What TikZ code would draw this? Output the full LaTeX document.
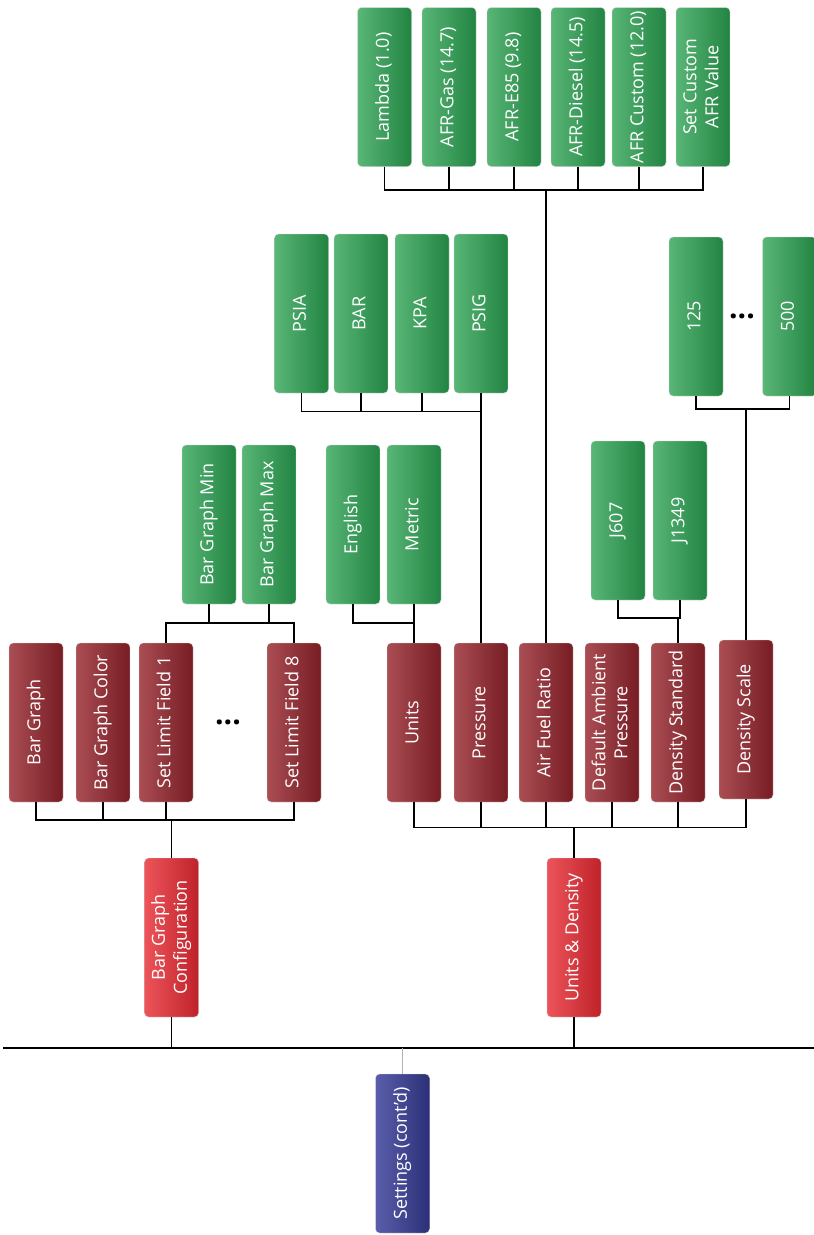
\documentclass[tikz,border=0pt]{standalone}
\usepackage{fontspec}
\setmainfont{Open Sans}

\definecolor{grnL}{RGB}{88,182,118}
\definecolor{grnR}{RGB}{34,132,66}
\definecolor{marL}{RGB}{170,78,84}
\definecolor{marR}{RGB}{120,28,36}
\definecolor{redL}{RGB}{236,84,90}
\definecolor{redR}{RGB}{192,34,42}
\definecolor{bluL}{RGB}{90,94,170}
\definecolor{bluR}{RGB}{44,48,120}

\newcommand{\vlabel}[1]{\rotatebox{90}{\begin{tabular}{@{}c@{}}#1\end{tabular}}}

\begin{document}
\begin{tikzpicture}[x=1pt, y=-1pt,
    box/.style={rectangle, rounded corners=4pt, minimum width=54pt, minimum height=159pt,
        inner sep=0pt, text=white, font=\fontsize{18}{22}\selectfont,
        draw=black!15, line width=.4pt},
    optbox/.style={box, left color=grnL, right color=grnR},
    setbox/.style={box, left color=marL, right color=marR},
    grpbox/.style={box, left color=redL, right color=redR},
    rootbox/.style={box, left color=bluL, right color=bluR},
    link/.style={draw=black, line width=1.6pt},
    stem/.style={draw=black!30, line width=1.6pt},
    more/.style={inner sep=0pt, font=\fontsize{30}{30}\bfseries}]
    \useasboundingbox (0,0) rectangle (814,1235);

    % root and trunk
    \node[rootbox] (settings) at (402.5,1153.5) {\vlabel{Settings (cont’d)}};
    \coordinate (trunkL) at (3,1048);
    \coordinate (trunkR) at (814,1048);
    \draw[link] (trunkL) -- (trunkR);
    \draw[stem] (settings.north) -- (settings.north |- trunkL);

    % groups
    \node[grpbox] (bgconf) at (171.5,937.5) {\vlabel{Bar Graph\\Configuration}};
    \node[grpbox] (unitsden) at (574,937.5) {\vlabel{Units \& Density}};
    \draw[link] (bgconf.south) -- (bgconf.south |- trunkL);
    \draw[link] (unitsden.south) -- (unitsden.south |- trunkL);

    % settings row
    \node[setbox] (bargraph) at (36,722.5) {\vlabel{Bar Graph}};
    \node[setbox] (bgcolor) at (103,722.5) {\vlabel{Bar Graph Color}};
    \node[setbox] (limit1) at (166,722.5) {\vlabel{Set Limit Field 1}};
    \node[more] (limdots) at (228,722) {...};
    \node[setbox] (limit8) at (294,722.5) {\vlabel{Set Limit Field 8}};

    \node[setbox] (units) at (414,722.5) {\vlabel{Units}};
    \node[setbox] (pressure) at (481,722.5) {\vlabel{Pressure}};
    \node[setbox] (afr) at (546,722.5) {\vlabel{Air Fuel Ratio}};
    \node[setbox] (ambient) at (612,722.5) {\vlabel{Default Ambient\\Pressure}};
    \node[setbox] (denstd) at (678,722.5) {\vlabel{Density Standard}};
    \node[setbox] (denscale) at (746,719.5) {\vlabel{Density Scale}};

    \coordinate (bgbus) at (0,820);
    \coordinate (udbus) at (0,827.5);
    \draw[link] (bargraph.south) |- (limit8.south |- bgbus) -- (limit8.south);
    \foreach \n in {bgcolor,limit1}
        \draw[link] (\n.south) -- (\n.south |- bgbus);
    \draw[link] (bgconf.north) -- (bgconf.north |- bgbus);

    \draw[link] (units.south) |- (denscale.south |- udbus) -- (denscale.south);
    \foreach \n in {pressure,afr,ambient,denstd}
        \draw[link] (\n.south) -- (\n.south |- udbus);
    \draw[link] (unitsden.north) -- (unitsden.north |- udbus);

    % limit values
    \node[optbox] (bgmin) at (209,524.5) {\vlabel{Bar Graph Min}};
    \node[optbox] (bgmax) at (269,524.5) {\vlabel{Bar Graph Max}};
    \coordinate (limbus) at (0,623);
    \draw[link] (limit1.north) |- (limit8.north |- limbus) -- (limit8.north);
    \foreach \n in {bgmin,bgmax}
        \draw[link] (\n.south) -- (\n.south |- limbus);

    % unit choices
    \node[optbox] (english) at (353,524.5) {\vlabel{English}};
    \node[optbox] (metric) at (414,524.5) {\vlabel{Metric}};
    \coordinate (unitbus) at (0,623);
    \draw[link] (english.south) |- (units.north |- unitbus) -- (units.north);
    \draw[link] (metric.south) -- (metric.south |- unitbus);

    % pressure choices
    \node[optbox] (psia) at (301.5,313.5) {\vlabel{PSIA}};
    \node[optbox] (bar) at (361,313.5) {\vlabel{BAR}};
    \node[optbox] (kpa) at (422,313.5) {\vlabel{KPA}};
    \node[optbox] (psig) at (481,313.5) {\vlabel{PSIG}};
    \coordinate (presbus) at (0,411.5);
    \draw[link] (psia.south) |- (pressure.north |- presbus) -- (pressure.north);
    \foreach \n in {bar,kpa,psig}
        \draw[link] (\n.south) -- (\n.south |- presbus);

    % air fuel ratio choices
    \node[optbox] (lambda) at (384.5,87) {\vlabel{Lambda (1.0)}};
    \node[optbox] (gas) at (449,87) {\vlabel{AFR-Gas (14.7)}};
    \node[optbox] (eflex) at (514,87) {\vlabel{AFR-E85 (9.8)}};
    \node[optbox] (diesel) at (578,87) {\vlabel{AFR-Diesel (14.5)}};
    \node[optbox] (custom) at (639,87) {\vlabel{AFR Custom (12.0)}};
    \node[optbox] (setafr) at (703,87) {\vlabel{Set Custom\\AFR Value}};
    \coordinate (afrbus) at (0,190);
    \draw[link] (lambda.south) |- (setafr.south |- afrbus) -- (setafr.south);
    \foreach \n in {gas,eflex,diesel,custom}
        \draw[link] (\n.south) -- (\n.south |- afrbus);
    \draw[link] (afr.north) -- (afr.north |- afrbus);

    % density standard choices
    \node[optbox] (jsix) at (618,520.5) {\vlabel{J607}};
    \node[optbox] (jthirteen) at (680,520.5) {\vlabel{J1349}};
    \coordinate (dsbus) at (0,618);
    \draw[link] (jsix.south) |- (jthirteen.south |- dsbus) -- (jthirteen.south);
    \draw[link] (denstd.north) -- (denstd.north |- dsbus);

    % density scale choices
    \node[optbox] (scalelo) at (696,316.5) {\vlabel{125}};
    \node[more] (scaledots) at (742,316) {...};
    \node[optbox] (scalehi) at (789.5,316.5) {\vlabel{500}};
    \coordinate (scbus) at (0,409);
    \draw[link] (scalelo.south) |- (scalehi.south |- scbus) -- (scalehi.south);
    \draw[link] (denscale.north) -- (denscale.north |- scbus);
\end{tikzpicture}
\end{document}
